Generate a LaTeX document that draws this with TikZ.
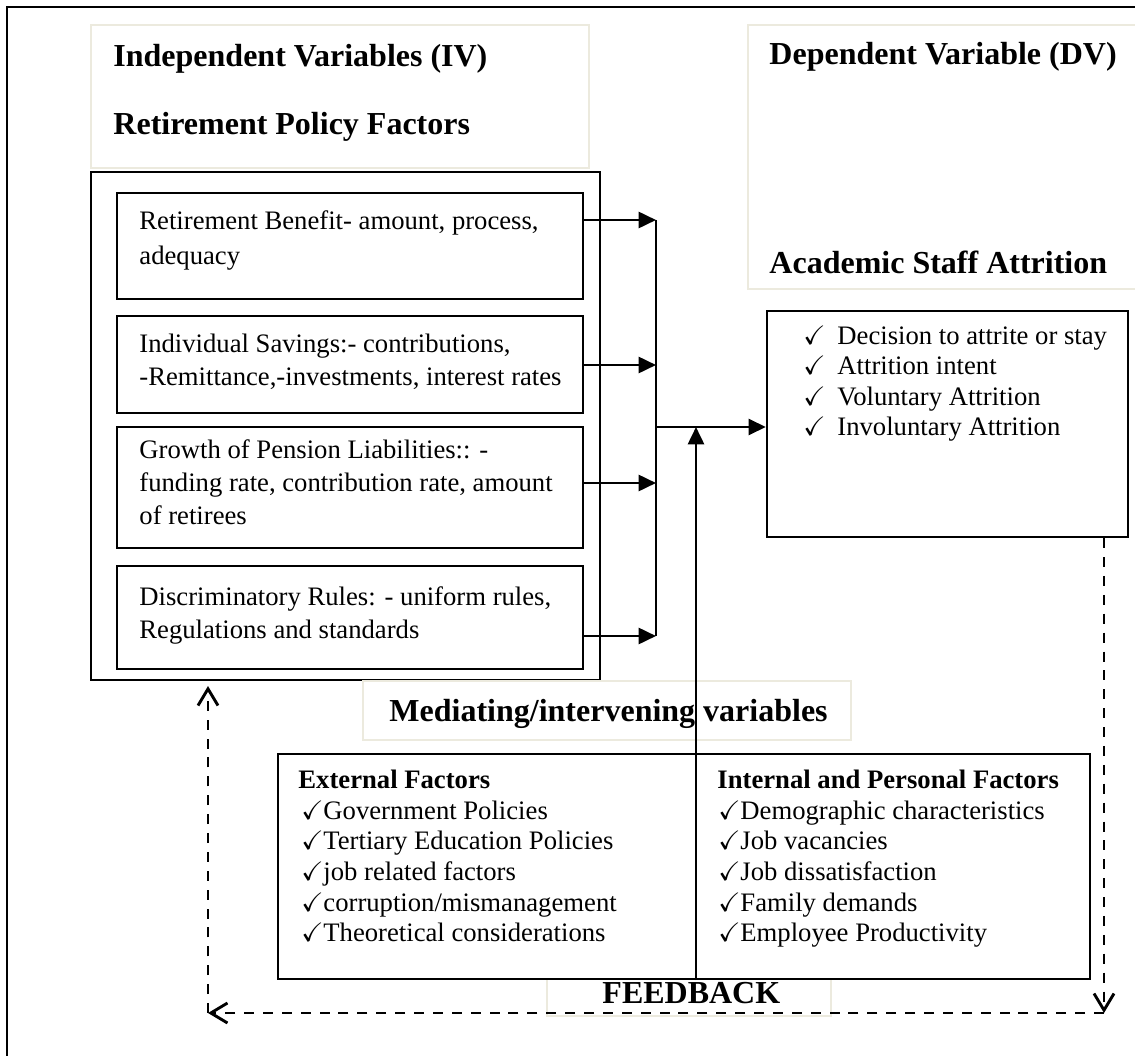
\documentclass[tikz,border=0pt]{standalone}
\usepackage{fontspec}
\setmainfont{Liberation Serif}
\usepackage{amssymb}
\usetikzlibrary{arrows.meta,fit,positioning}
\definecolor{hdrline}{RGB}{236,234,222}
\newcommand{\ckdv}{\makebox[15.3pt][l]{$\checkmark$}}
\newcommand{\ckmv}{\makebox[9.9pt][l]{$\checkmark$}}
\tikzset{
  frm/.style={draw=black,line width=1pt},
  hdr/.style={draw=hdrline,line width=0.9pt,fill=white,inner sep=0pt},
  bx/.style={draw=black,line width=1.05pt,fill=white,inner sep=0pt},
  ht/.style={font=\fontsize{14.4}{16}\selectfont\bfseries,anchor=base west,inner sep=0pt},
  tx/.style={font=\fontsize{12}{14}\selectfont,anchor=base west,inner sep=0pt},
  tb/.style={font=\fontsize{12}{14}\selectfont\bfseries,anchor=base west,inner sep=0pt},
  arr/.style={-{Triangle[length=7.8pt,width=7.2pt]},line width=1.2pt},
  bus/.style={line width=0.9pt},
  fb/.style={-{Straight Barb[length=7.5pt,width=9pt]},line width=1.3pt,dash pattern=on 4.5pt off 4pt},
}

\begin{document}
\begin{tikzpicture}[x=0.45pt,y=-0.45pt]
\useasboundingbox (0,0) rectangle (1135,1056);
% ---- frame (cut at right and bottom)
\draw[frm] (7,1060) -- (7,7) -- (1140,7);
% ---- headers
\node[hdr,fit={(91,25) (589,168)}] (ivh) {};
\node[hdr,fit={(748,25) (1145,289)}] (dvh) {};
\node[ht] (ivt1) at (113,67) {Independent Variables (IV)};
\node[ht] (ivt2) at (113,135) {Retirement Policy Factors};
\node[ht] (dvt1) at (769,65) {Dependent Variable (DV)};
\node[ht] (dvt2) at (769,273) {Academic Staff Attrition};
% ---- independent variables
\node[bx,fit={(91,172) (600,680)}] (ivo) {};
\node[bx,fit={(117,193) (583,299)}] (b1) {};
\node[bx,fit={(117,316) (583,413)}] (b2) {};
\node[bx,fit={(117,427) (583,548)}] (b3) {};
\node[bx,fit={(117,566) (583,669)}] (b4) {};
\node[tx] (b1t1) at (139,229) {Retirement Benefit- amount, process,};
\node[tx] (b1t2) at (139,265) {adequacy};
\node[tx] (b2t1) at (139,352) {Individual Savings:- contributions,};
\node[tx] (b2t2) at (139,385) {-Remittance,-investments, interest rates};
\node[tx] (b3t1) at (139,458) {Growth of Pension Liabilities:: -};
\node[tx] (b3t2) at (139,491) {funding rate, contribution rate, amount};
\node[tx] (b3t3) at (139,524) {of retirees};
\node[tx] (b4t1) at (139,605) {Discriminatory Rules: - uniform rules,};
\node[tx] (b4t2) at (139,638) {Regulations and standards};
% ---- dependent variable
\node[bx,fit={(767,311) (1128,537)}] (dv) {};
\foreach \t [count=\i] in {Decision to attrite or stay,Attrition intent,Voluntary Attrition,Involuntary Attrition}
  \node[tx] (dvl\i) at (803,{344+30.6*(\i-1)}) {\ckdv\t};
% ---- mediating variables
\node[hdr,fit={(363,681) (851,740)}] (mvh) {};
\node[ht] (mvt) at (389,721) {Mediating/intervening variables};
\node[hdr,fit={(547,960) (831,1016)}] (fbh) {};
\node[bx,fit={(278,754) (1090,979)}] (mv) {};
\node[ht] (fbt) at (602,1003) {FEEDBACK};
\node[tb] (exth) at (298,788) {External Factors};
\node[tb] (inth) at (717,788) {Internal and Personal Factors};
\foreach \t [count=\i] in {Government Policies,Tertiary Education Policies,job related factors,corruption/mismanagement,Theoretical considerations}
  \node[tx] (ext\i) at (301,{819+30.7*(\i-1)}) {\ckmv\t};
\foreach \t [count=\i] in {Demographic characteristics,Job vacancies,Job dissatisfaction,Family demands,Employee Productivity}
  \node[tx] (int\i) at (718,{819+30.7*(\i-1)}) {\ckmv\t};
% ---- connectors
\coordinate (j1) at (656,220);
\coordinate (j2) at (656,365);
\coordinate (j3) at (656,483);
\coordinate (j4) at (656,636);
\coordinate (bj) at (656,427);
\coordinate (mj) at (696,427);
\draw[bus] (j1) -- (j4);
\draw[arr] (b1.east |- j1) -- (j1);
\draw[arr] (b2.east |- j2) -- (j2);
\draw[arr] (b3.east |- j3) -- (j3);
\draw[arr] (b4.east |- j4) -- (j4);
\draw[arr] (bj) -- (bj -| dv.west);
\draw[arr] (mv.south -| mj) -- (mj);
% ---- feedback loop
\coordinate (fr) at (1104,1013);
\coordinate (fl) at (208,1013);
\draw[fb] (dv.south -| fr) -- (fr);
\draw[fb] (fr) -- (fl);
\draw[fb,shorten >=2.2pt] (fl) -- (ivo.south -| fl);
\end{tikzpicture}
\end{document}
